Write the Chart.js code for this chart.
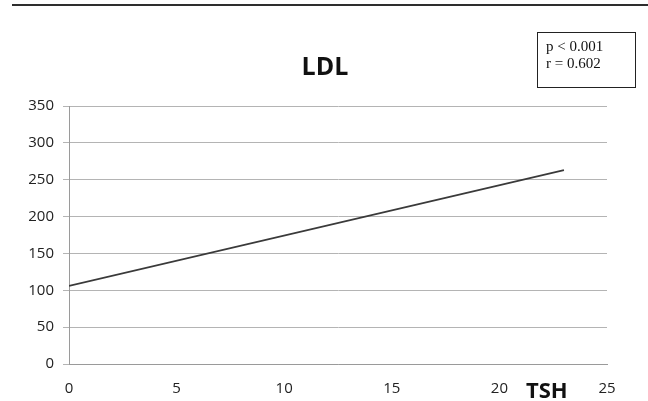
<!DOCTYPE html>
<html>
<head>
<meta charset="utf-8">
<script src="https://cdn.jsdelivr.net/npm/chart.js@4"></script>
<style>
  body { margin: 0; background: #fff; }
  #wrap { position: relative; width: 648px; height: 401px; }
  #rule { position: absolute; left: 12px; top: 4px; width: 636px; height: 2px; background: #2e2e2e; }
  #stats {
    position: absolute; left: 537px; top: 32px; width: 97px; height: 54px;
    border: 1px solid #222; font-family: "Liberation Serif", serif; font-size: 15px;
    line-height: 17px; color: #111; box-sizing: content-box;
  }
  #stats div { padding-left: 8px; }
</style>
</head>
<body>
<div id="wrap">
  <canvas id="chart" width="648" height="401"></canvas>
  <div id="rule"></div>
  <div id="stats"><div style="margin-top:5px">p &lt; 0.001</div><div>r = 0.602</div></div>
</div>
<script>
// regression line LDL vs TSH
const tsh = [0, 23];
const ldl = [106, 263];
const xTicks = [0, 5, 10, 15, 20, 25];
const yTicks = [0, 50, 100, 150, 200, 250, 300, 350];

const tickFont = { family: 'Open Sans', size: 15 };

// chart title and the bold "TSH" between the 20 and 25 labels
const labels = {
    id: 'labels',
    afterDraw(chart) {
        const c = chart.ctx;
        c.save();
        c.fillStyle = '#111';
        c.textAlign = 'center';
        c.textBaseline = 'middle';
        c.font = 'bold 25px "Open Sans"';
        c.fillText('LDL', 325, 68);
        c.font = 'bold 22px "Open Sans"';
        c.fillText('TSH', chart.scales.x.getPixelForValue(22.2), 392);
        c.restore();
    }
};

const ctx = document.getElementById('chart').getContext('2d');
const myChart = new Chart(ctx, {
    type: 'scatter',
    data: {
        datasets: [{
            data: tsh.map((v, i) => ({ x: v, y: ldl[i] })),
            showLine: true,
            borderColor: '#3a3a3a',
            borderWidth: 1.6,
            pointRadius: 0,
            fill: false
        }]
    },
    options: {
        responsive: false,
        animation: false,
        layout: { padding: { top: 106, left: 0, right: 41, bottom: 0 } },
        plugins: {
            legend: { display: false },
            tooltip: { enabled: false },
            title: { display: false }
        },
        scales: {
            x: {
                type: 'linear',
                min: 0, max: 25,
                afterBuildTicks: s => { s.ticks = xTicks.map(v => ({ value: v })); },
                afterFit: s => { s.height = 37; },
                grid: { display: false, drawOnChartArea: false, drawTicks: true, tickLength: 5, color: '#9a9a9a' },
                border: { display: true, color: '#9a9a9a', width: 1 },
                ticks: { color: '#222', font: tickFont, padding: 11, maxRotation: 0 }
            },
            y: {
                min: 0, max: 350,
                afterBuildTicks: s => { s.ticks = yTicks.map(v => ({ value: v })); },
                afterFit: s => { s.width = 69; },
                grid: { color: '#b4b4b4', lineWidth: 1, tickLength: 6 },
                border: { display: true, color: '#9a9a9a', width: 1 },
                ticks: { color: '#222', font: tickFont, padding: 9 }
            }
        }
    },
    plugins: [labels]
});
</script>
</body>
</html>
